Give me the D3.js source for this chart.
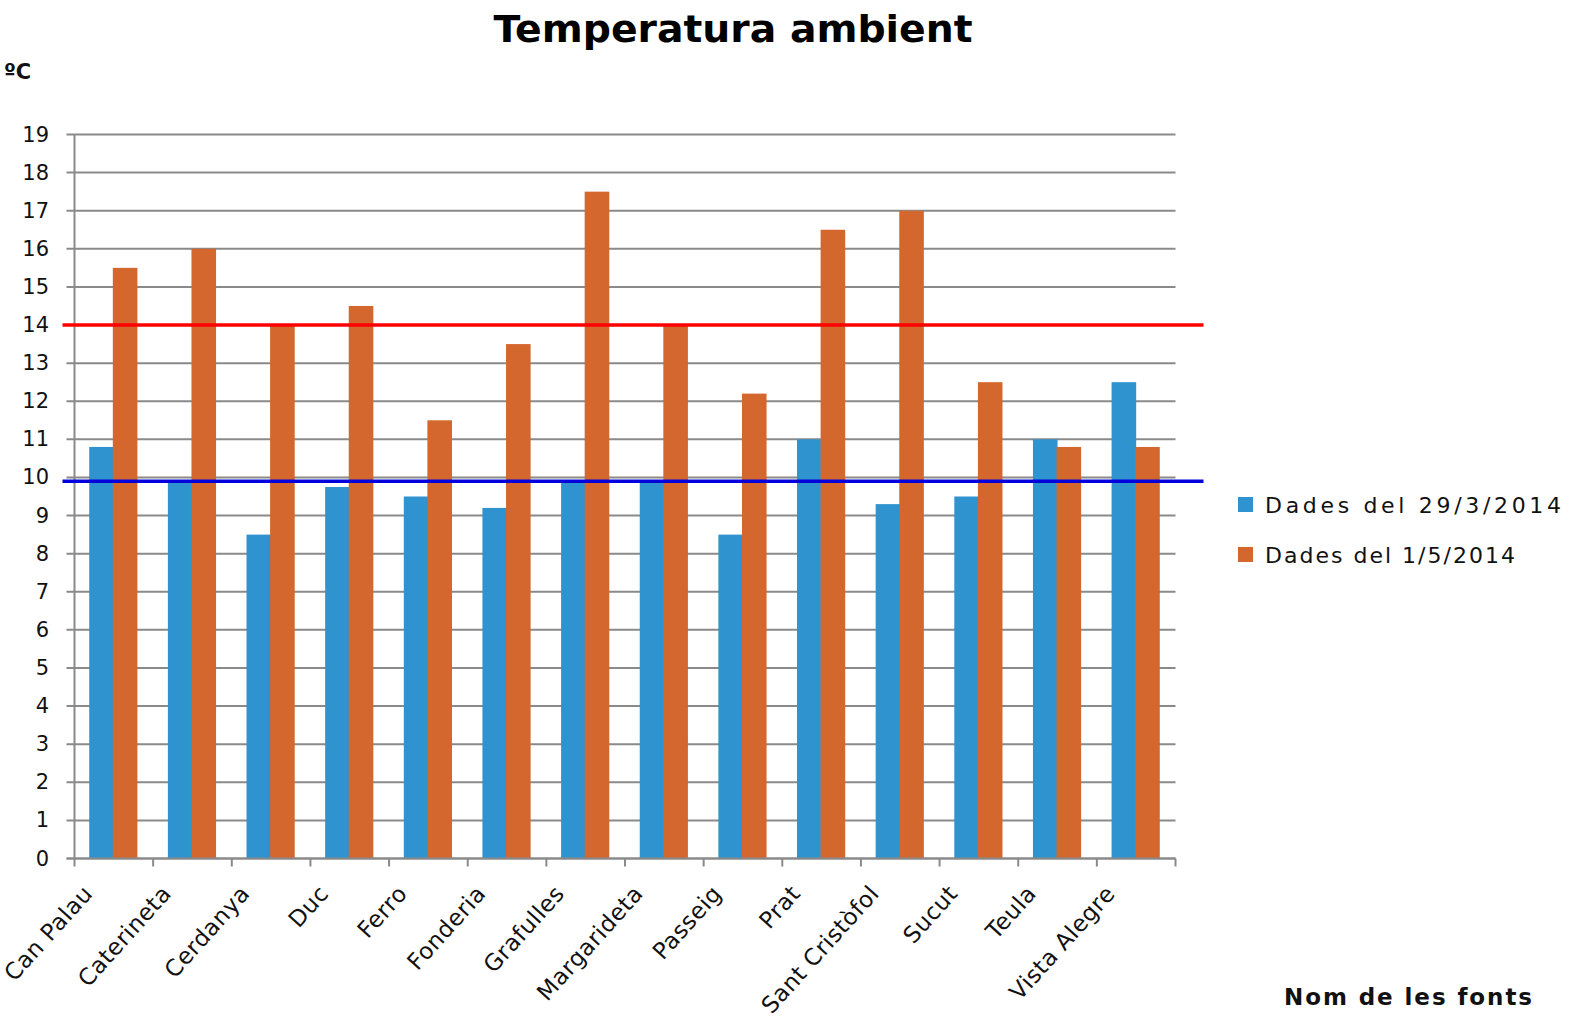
<!DOCTYPE html>
<html>
<head>
<meta charset="utf-8">
<script src="https://cdn.jsdelivr.net/npm/d3@7"></script>
<style>
  html, body { margin: 0; padding: 0; background: #fff; }
  svg { display: block; }
</style>
</head>
<body>
<svg id="chart" width="1573" height="1017"></svg>
<script>
const categories = ["Can Palau", "Caterineta", "Cerdanya", "Duc", "Ferro", "Fonderia", "Grafulles",
  "Margarideta", "Passeig", "Prat", "Sant Cristòfol", "Sucut", "Teula", "Vista Alegre"];
const seriesNames = ["Dades del 29/3/2014", "Dades del 1/5/2014"];
const values1 = [10.8, 9.9, 8.5, 9.75, 9.5, 9.2, 9.9, 9.9, 8.5, 11, 9.3, 9.5, 11, 12.5];
const values2 = [15.5, 16, 14, 14.5, 11.5, 13.5, 17.5, 14, 12.2, 16.5, 17, 12.5, 10.8, 10.8];
const yTicks = d3.range(0, 20);
const refLines = [14, 9.9];
const refColors = ["#ff0000", "#0000dd"];
const colors = ["#2f93cf", "#d4672e"];
const titleText = "Temperatura ambient";
const yUnit = "ºC";
const xTitle = "Nom de les fonts";

const svg = d3.select("#chart");
const pLeft = 74.5, pRight = 1175.5, pTop = 134.5, pBottom = 858.5;
const font = "'DejaVu Sans', sans-serif";

const x = d3.scaleBand().domain(categories).range([pLeft, pRight]).paddingInner(0.4).paddingOuter(0.2);
const xs = d3.scaleBand().domain([0, 1]).range([0, x.bandwidth()]);
const y = d3.scaleLinear().domain([0, 19]).range([pBottom, pTop]);
const step = x.step();

// gridlines
svg.append("g").selectAll("line").data(yTicks).join("line")
  .attr("x1", pLeft - 8).attr("x2", pRight)
  .attr("y1", d => y(d)).attr("y2", d => y(d))
  .attr("stroke", "#8a8a8a").attr("stroke-width", 2);

// bars
const groups = svg.append("g").selectAll("g").data(categories).join("g")
  .attr("transform", d => `translate(${x(d)},0)`);
[values1, values2].forEach((vals, si) => {
  groups.append("rect")
    .attr("x", xs(si) - 1)
    .attr("width", xs.bandwidth() + 1)
    .attr("y", (d, i) => y(vals[i]))
    .attr("height", (d, i) => y(0) - y(vals[i]))
    .attr("fill", colors[si]);
});

// axes
svg.append("line").attr("x1", pLeft).attr("x2", pLeft).attr("y1", pTop).attr("y2", pBottom)
  .attr("stroke", "#8a8a8a").attr("stroke-width", 2);
svg.append("line").attr("x1", pLeft - 8).attr("x2", pRight).attr("y1", pBottom).attr("y2", pBottom)
  .attr("stroke", "#8a8a8a").attr("stroke-width", 2);
svg.append("g").selectAll("line").data(d3.range(categories.length + 1)).join("line")
  .attr("x1", i => pLeft + i * step).attr("x2", i => pLeft + i * step)
  .attr("y1", pBottom).attr("y2", pBottom + 8)
  .attr("stroke", "#8a8a8a").attr("stroke-width", 2);

// reference lines
svg.append("g").selectAll("line").data(refLines).join("line")
  .attr("x1", pLeft - 12).attr("x2", pRight + 28)
  .attr("y1", d => y(d)).attr("y2", d => y(d))
  .attr("stroke", (d, i) => refColors[i]).attr("stroke-width", 3.5);

// y tick labels
svg.append("g").selectAll("text").data(yTicks).join("text")
  .attr("x", 49).attr("y", d => y(d) + 7)
  .attr("text-anchor", "end")
  .attr("font-family", font).attr("font-size", 21).attr("fill", "#111")
  .text(d => d);

// x labels
svg.append("g").selectAll("text").data(categories).join("text")
  .attr("transform", d => `translate(${x(d) + x.bandwidth() / 2 - 20},${pBottom + 36}) rotate(-48)`)
  .attr("text-anchor", "end")
  .attr("font-family", font).attr("font-size", 23).attr("letter-spacing", 0.5).attr("fill", "#111")
  .text(d => d);

// title
svg.append("text").attr("x", 733).attr("y", 42).attr("text-anchor", "middle")
  .attr("font-family", font).attr("font-weight", "bold").attr("font-size", 38).attr("fill", "#000")
  .attr("textLength", 479).attr("lengthAdjust", "spacingAndGlyphs")
  .text(titleText);

// unit
svg.append("text").attr("x", 4).attr("y", 79)
  .attr("font-family", font).attr("font-size", 21).attr("font-weight", "bold").attr("fill", "#111").text(yUnit);

// legend
const legend = svg.append("g").selectAll("g").data(seriesNames).join("g")
  .attr("transform", (d, i) => `translate(1238,${497 + i * 50})`);
legend.append("rect").attr("width", 15).attr("height", 15).attr("fill", (d, i) => colors[i]);
legend.append("text").attr("x", 27).attr("y", 16)
  .attr("font-family", font).attr("font-size", 22).attr("fill", "#111")
  .attr("textLength", (d, i) => i === 0 ? 296 : 250).attr("lengthAdjust", "spacing")
  .text(d => d);

// x title
svg.append("text").attr("x", 1284).attr("y", 1005)
  .attr("font-family", font).attr("font-size", 23).attr("font-weight", "bold").attr("fill", "#111")
  .attr("textLength", 248).attr("lengthAdjust", "spacing")
  .text(xTitle);
</script>
</body>
</html>
